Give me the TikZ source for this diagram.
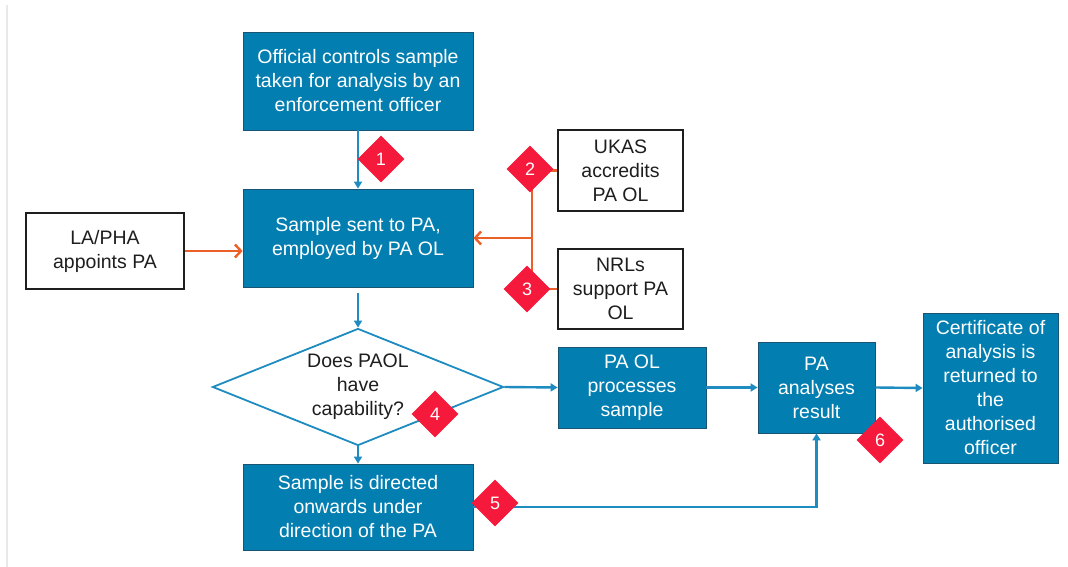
\documentclass[tikz,border=0pt]{standalone}
\usepackage{fontspec}
\setmainfont{Liberation Sans}
\usetikzlibrary{shapes.geometric,arrows.meta}
\definecolor{boxblue}{RGB}{3,126,176}
\definecolor{boxedge}{RGB}{25,85,115}
\definecolor{lineblue}{RGB}{30,140,192}
\definecolor{orangeln}{RGB}{234,96,40}
\definecolor{reddia}{RGB}{245,25,60}
\definecolor{darktext}{RGB}{30,30,30}
\tikzset{
  bluebox/.style={rectangle, fill=boxblue, draw=boxedge, line width=0.8pt, text=white, align=center, inner sep=2pt,
    font=\fontsize{19.5}{24}\selectfont},
  whitebox/.style={rectangle, fill=white, draw=darktext, line width=1.5pt, text=darktext, align=center, inner sep=2pt,
    font=\fontsize{19.5}{24}\selectfont},
  decbox/.style={diamond, fill=white, draw=lineblue, line width=1.8pt, text=darktext, align=center, inner sep=0pt,
    aspect=2.49, minimum width=291pt, minimum height=117pt, font=\fontsize{19.5}{24}\selectfont},
  numdia/.style={diamond, fill=reddia, draw=none, text=white, inner sep=0pt, minimum width=47pt, minimum height=47pt,
    font=\fontsize{18}{20}\selectfont},
  bluearrow/.style={draw=lineblue, line width=2.4pt, -{Triangle[length=7pt,width=8pt]}},
  orangearrow/.style={draw=orangeln, line width=2.8pt, -{Straight Barb[length=6pt,width=13pt,line width=2.4pt]}},
  orangeline/.style={draw=orangeln, line width=2.8pt},
}
\begin{document}
\begin{tikzpicture}[x=1pt,y=-1pt]
\useasboundingbox (0,0) rectangle (1068,567);
\fill[white] (0,0) rectangle (1068,567);
\draw[gray!18, line width=1.2pt] (7,5) -- (7,567);

% boxes
\node[bluebox, minimum width=230pt, minimum height=98pt] (top) at (358,81)
  {Official controls sample\\taken for analysis by an\\enforcement officer};
\node[bluebox, minimum width=230pt, minimum height=98pt] (sent) at (358,238)
  {Sample sent to PA,\\employed by PA OL};
\node[whitebox, minimum width=125pt, minimum height=81pt] (ukas) at (620.5,170.5)
  {UKAS\\accredits\\PA OL};
\node[whitebox, minimum width=125pt, minimum height=80pt] (nrls) at (620.5,289)
  {NRLs\\support PA\\OL};
\node[whitebox, minimum width=158pt, minimum height=76pt] (la) at (105,251)
  {LA/PHA\\appoints PA};
\node[decbox] (dec) at (358,387) {Does PAOL\\have\\capability?};
\node[bluebox, minimum width=148pt, minimum height=81pt] (paol) at (632,387.5)
  {PA OL\\processes\\sample};
\node[bluebox, minimum width=230pt, minimum height=86pt] (dir) at (358,507)
  {Sample is directed\\onwards under\\direction of the PA};
\node[bluebox, minimum width=117pt, minimum height=91pt] (paan) at (816.5,387.5)
  {PA\\analyses\\result};
\node[bluebox, minimum width=135pt, minimum height=150pt] (cert) at (990.5,388)
  {Certificate of\\analysis is\\returned to\\the\\authorised\\officer};

% connectors
\coordinate (j) at (532,238);
\draw[bluearrow] (top.south) -- (sent.north);
\draw[bluearrow, shorten <=6pt] (sent.south) -- (dec.north);
\draw[bluearrow] (dec.south) -- (dir.north);
\draw[bluearrow] (dec.east) -- (paol.west);
\draw[bluearrow] (paol.east) -- (paan.west);
\draw[bluearrow] (paan.east) -- (cert.west);
\draw[bluearrow] (dir.east) -| (paan.south);
\draw[orangearrow] (la.east) -- (la.east -| sent.west);
\draw[orangeline] (ukas.west) -| (j);
\draw[orangeline] (nrls.west) -| (j);
\draw[orangearrow] (j) -- (sent.east);

% numbered markers
\node[numdia] (n1) at (381,159) {1};
\node[numdia] (n2) at (530,169) {2};
\node[numdia] (n3) at (527,289) {3};
\node[numdia] (n4) at (435,414) {4};
\node[numdia] (n5) at (495,503) {5};
\node[numdia] (n6) at (880,440) {6};
\end{tikzpicture}
\end{document}
